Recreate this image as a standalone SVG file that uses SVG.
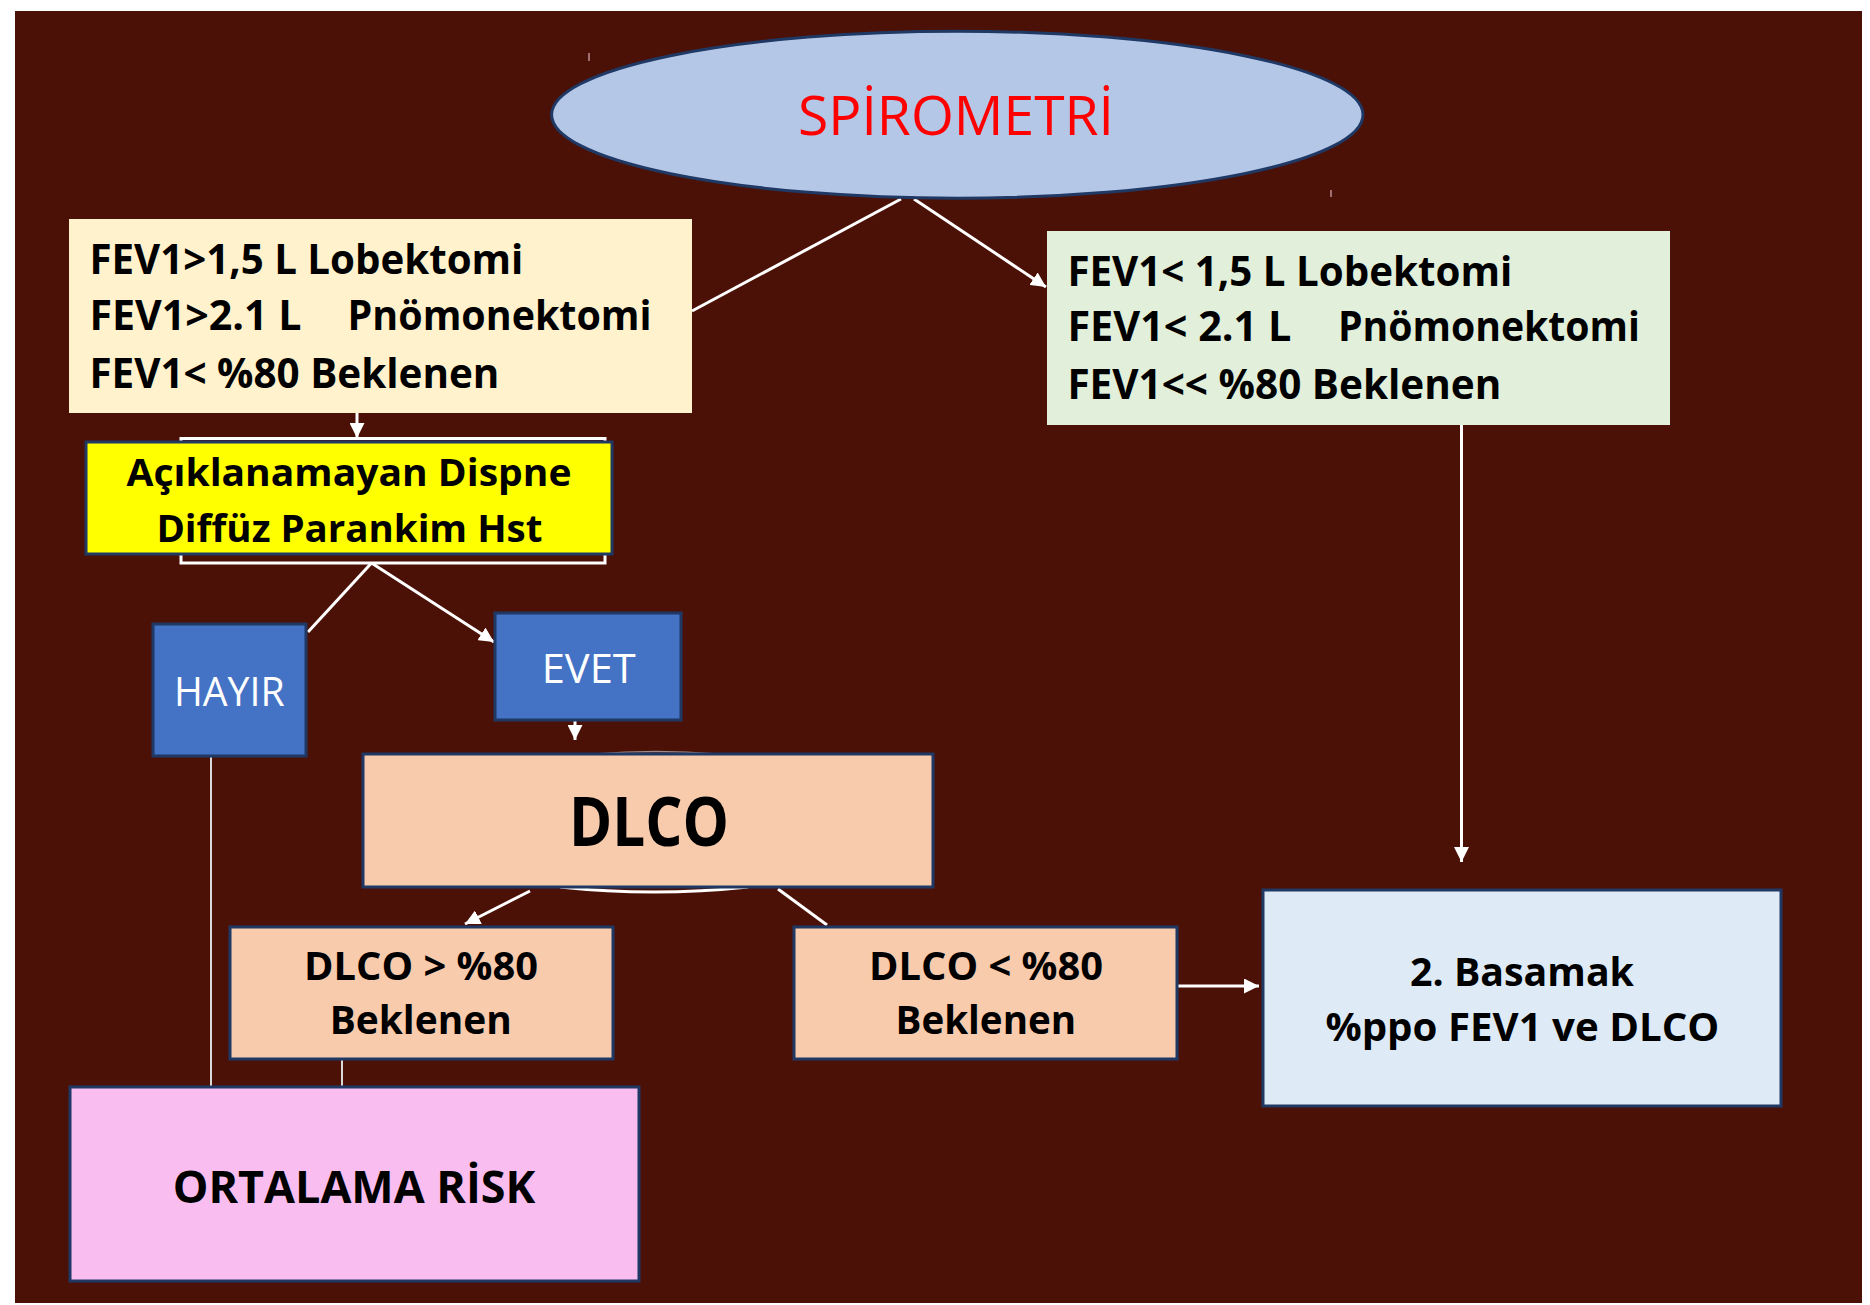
<svg xmlns="http://www.w3.org/2000/svg" width="1870" height="1305" viewBox="0 0 1870 1305">
<style>
.t{font-family:"Open Sans","Liberation Sans",sans-serif;font-weight:700;fill:#000}
.r{font-family:"Open Sans","Liberation Sans",sans-serif;font-weight:400}
.box{stroke:#1f3864;stroke-width:3}
.c{stroke:#ffffff;stroke-width:3;fill:none}
.thin{stroke:#d9d9d9;stroke-width:2;fill:none}
.tick{stroke:#a07070;stroke-width:2}
</style>
<defs>
<marker id="ah" viewBox="0 0 10 10" refX="10" refY="5" markerUnits="userSpaceOnUse" markerWidth="15" markerHeight="15" orient="auto">
<path d="M0,0 L10,5 L0,10 z" fill="#ffffff"/>
</marker>
</defs>
<rect x="0" y="0" width="1870" height="1305" fill="#ffffff"/>
<rect x="15" y="11" width="1847" height="1292" fill="#4b1106"/>
<line class="tick" x1="589" y1="53" x2="589" y2="61"/>
<line class="tick" x1="1331" y1="190" x2="1331" y2="197"/>

<g id="connectors">
<line class="c" x1="901" y1="199" x2="692" y2="311"/>
<line class="c" x1="914" y1="199" x2="1046" y2="287" marker-end="url(#ah)"/>
<line class="c" x1="357" y1="413" x2="357" y2="438" marker-end="url(#ah)"/>
<line class="c" x1="371.5" y1="563" x2="308" y2="632"/>
<line class="c" x1="371.5" y1="563" x2="494" y2="642" marker-end="url(#ah)"/>
<line class="c" x1="575" y1="721" x2="575" y2="740" marker-end="url(#ah)"/>
<line class="c" x1="530" y1="891" x2="465" y2="924" marker-end="url(#ah)"/>
<line class="c" x1="778" y1="889" x2="827" y2="925"/>
<line class="c" x1="1178" y1="986" x2="1259" y2="986" stroke-width="4" marker-end="url(#ah)"/>
<line class="c" x1="1461.5" y1="425" x2="1461.5" y2="862" stroke-width="2.5" marker-end="url(#ah)"/>
<line class="thin" x1="211" y1="756" x2="211" y2="1087"/>
<line class="thin" x1="342" y1="1059" x2="342" y2="1087" stroke-width="1.5"/>
<path class="c" d="M560,887 Q654,897 748,887" stroke-width="2.5"/>
<path d="M595,754 Q656,749 717,754" stroke="#9a8a8a" stroke-width="1.5" fill="none"/>
</g>

<g id="spirometri">
<ellipse cx="957.3" cy="114.7" rx="405.7" ry="83.5" fill="#b4c7e7" stroke="#1f3864" stroke-width="3"/>
<text class="r" x="956" y="134.7" font-size="55" fill="#ff0000" text-anchor="middle" textLength="316" lengthAdjust="spacingAndGlyphs">SPİROMETRİ</text>
</g>

<g id="fev-high">
<rect x="69" y="219" width="623" height="194" fill="#fff2cc"/>
<text class="t" x="89.4" y="273.6" font-size="41" textLength="434" lengthAdjust="spacingAndGlyphs">FEV1&gt;1,5 L Lobektomi</text>
<text class="t" x="89.4" y="329.6" font-size="41" textLength="212" lengthAdjust="spacingAndGlyphs">FEV1&gt;2.1 L</text>
<text class="t" x="347.6" y="329.6" font-size="41" textLength="304" lengthAdjust="spacingAndGlyphs">Pnömonektomi</text>
<text class="t" x="89.4" y="387.6" font-size="41" textLength="410" lengthAdjust="spacingAndGlyphs">FEV1&lt; %80 Beklenen</text>
</g>

<g id="fev-low">
<rect x="1047" y="231" width="623" height="194" fill="#e2efda"/>
<text class="t" x="1067.4" y="286" font-size="41" textLength="445" lengthAdjust="spacingAndGlyphs">FEV1&lt; 1,5 L Lobektomi</text>
<text class="t" x="1067.4" y="341" font-size="41" textLength="224" lengthAdjust="spacingAndGlyphs">FEV1&lt; 2.1 L</text>
<text class="t" x="1338" y="341" font-size="41" textLength="302" lengthAdjust="spacingAndGlyphs">Pnömonektomi</text>
<text class="t" x="1067.4" y="399" font-size="41" textLength="434" lengthAdjust="spacingAndGlyphs">FEV1&lt;&lt; %80 Beklenen</text>
</g>

<g id="dispne">
<rect x="181" y="438.5" width="424" height="124.5" fill="none" stroke="#ffffff" stroke-width="3"/>
<rect class="box" x="86" y="442" width="526" height="112" fill="#ffff00"/>
<text class="t" x="349" y="486" font-size="37" text-anchor="middle" textLength="445" lengthAdjust="spacingAndGlyphs">Açıklanamayan Dispne</text>
<text class="t" x="349.4" y="542" font-size="37" text-anchor="middle" textLength="386" lengthAdjust="spacingAndGlyphs">Diffüz Parankim Hst</text>
</g>

<g id="hayir">
<rect class="box" x="153" y="624" width="153" height="132" fill="#4472c4"/>
<text class="r" x="229.3" y="705.7" font-size="40" fill="#ffffff" text-anchor="middle" textLength="110.7" lengthAdjust="spacingAndGlyphs">HAYIR</text>
</g>

<g id="evet">
<rect class="box" x="495" y="613" width="186" height="107" fill="#4472c4"/>
<text class="r" x="588.7" y="682.7" font-size="41" fill="#ffffff" text-anchor="middle" textLength="94" lengthAdjust="spacingAndGlyphs">EVET</text>
</g>

<g id="dlco">
<rect class="box" x="363" y="754" width="570" height="133" fill="#f8cbad"/>
<text class="t" x="649" y="846" font-size="68" text-anchor="middle" textLength="160" lengthAdjust="spacingAndGlyphs">DLCO</text>
</g>

<g id="dlco-high">
<rect class="box" x="230" y="927" width="383" height="132" fill="#f8cbad"/>
<text class="t" x="421" y="980" font-size="39" text-anchor="middle" textLength="234" lengthAdjust="spacingAndGlyphs">DLCO &gt; %80</text>
<text class="t" x="420.7" y="1034" font-size="39" text-anchor="middle" textLength="182" lengthAdjust="spacingAndGlyphs">Beklenen</text>
</g>

<g id="dlco-low">
<rect class="box" x="794" y="927" width="383" height="132" fill="#f8cbad"/>
<text class="t" x="986" y="980" font-size="39" text-anchor="middle" textLength="234" lengthAdjust="spacingAndGlyphs">DLCO &lt; %80</text>
<text class="t" x="985.8" y="1034" font-size="39" text-anchor="middle" textLength="180.6" lengthAdjust="spacingAndGlyphs">Beklenen</text>
</g>

<g id="basamak">
<rect class="box" x="1263" y="890" width="518" height="216" fill="#deebf7"/>
<text class="t" x="1522" y="986" font-size="39" text-anchor="middle" textLength="224" lengthAdjust="spacingAndGlyphs">2. Basamak</text>
<text class="t" x="1522.4" y="1040.6" font-size="39" text-anchor="middle" textLength="394" lengthAdjust="spacingAndGlyphs">%ppo FEV1 ve DLCO</text>
</g>

<g id="ortalama">
<rect class="box" x="70" y="1087" width="569" height="194" fill="#f9bdf0"/>
<text class="t" x="354" y="1202.5" font-size="45" text-anchor="middle" textLength="362.5" lengthAdjust="spacingAndGlyphs">ORTALAMA RİSK</text>
</g>
</svg>
